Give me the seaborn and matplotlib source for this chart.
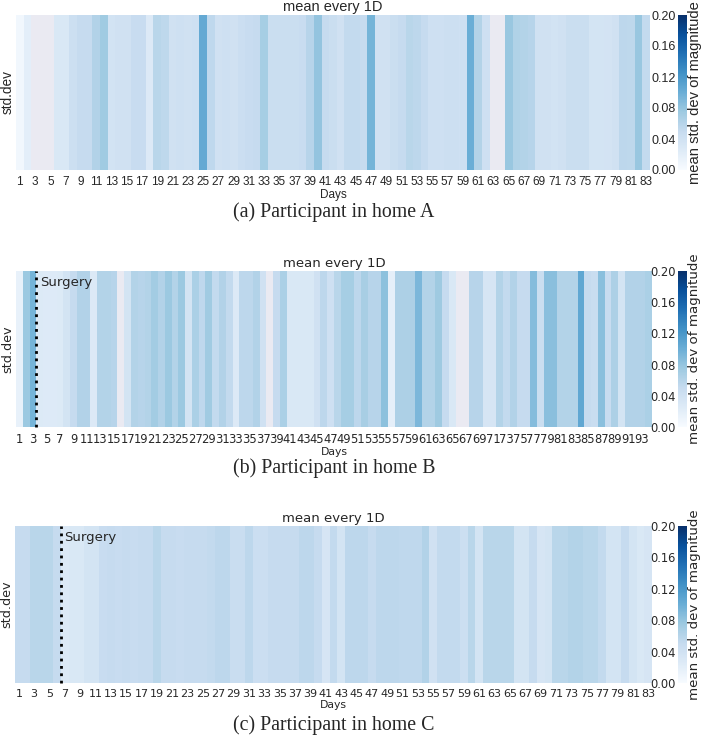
import numpy as np
import pandas as pd
import matplotlib
matplotlib.use("Agg")
import matplotlib.pyplot as plt
import seaborn as sns

nan = np.nan

# mean std. dev of magnitude per day (NaN = missing day)
days_a = list(range(1, 84))
values_a = [0.007, 0.02, nan, nan, nan, 0.03, 0.03, 0.044, 0.05, 0.05,
            0.063, 0.074, 0.038, 0.04, 0.04, 0.048, 0.048, 0.028, 0.058, 0.055,
            0.04, 0.042, 0.04, 0.042, 0.104, 0.054, 0.04, 0.042, 0.04, 0.045,
            0.048, 0.05, 0.07, 0.046, 0.046, 0.046, 0.046, 0.048, 0.06, 0.08,
            0.05, 0.046, 0.04, 0.052, 0.052, 0.05, 0.095, 0.04, 0.04, 0.046,
            0.05, 0.058, 0.056, 0.05, 0.042, 0.042, 0.044, 0.044, 0.042, 0.1,
            0.062, 0.042, nan, nan, 0.078, 0.064, 0.062, 0.06, 0.04, 0.04,
            0.038, 0.04, 0.046, 0.046, 0.046, 0.036, 0.036, 0.037, 0.04, 0.056,
            0.055, 0.078, 0.052]

days_b = list(range(1, 95))
values_b = [0.015, 0.076, 0.095, 0.027, 0.026, 0.026, 0.027, 0.036, 0.05, 0.063,
            0.063, 0.028, 0.062, 0.062, 0.06, nan, 0.036, 0.062, 0.06, 0.062,
            0.072, 0.063, 0.076, 0.062, 0.076, 0.036, 0.067, 0.054, 0.073, 0.052,
            0.063, 0.052, 0.028, 0.056, 0.056, 0.063, 0.04, nan, 0.05, 0.067,
            0.03, 0.03, 0.03, 0.03, 0.04, 0.056, 0.042, 0.058, 0.07, 0.07,
            0.056, 0.069, 0.06, 0.06, 0.083, 0.018, 0.066, 0.066, 0.066, 0.092,
            0.062, 0.062, 0.075, 0.05, 0.03, nan, nan, 0.06, 0.06, 0.034,
            0.034, 0.062, 0.052, 0.063, 0.05, 0.05, 0.087, 0.046, 0.085, 0.085,
            0.062, 0.062, 0.062, 0.107, 0.05, 0.047, 0.085, 0.048, 0.066, 0.036,
            0.063, 0.063, 0.063, 0.067]

days_c = list(range(1, 84))
values_c = [0.05, 0.05, 0.058, 0.058, 0.058, 0.05, 0.028, 0.03, 0.03, 0.036,
            0.036, 0.048, 0.05, 0.048, 0.05, 0.048, 0.05, 0.05, 0.058, 0.05,
            0.05, 0.048, 0.05, 0.05, 0.05, 0.052, 0.056, 0.056, 0.047, 0.047,
            0.056, 0.045, 0.045, 0.05, 0.05, 0.05, 0.05, 0.056, 0.056, 0.05,
            0.034, 0.052, 0.036, 0.056, 0.056, 0.056, 0.05, 0.056, 0.056, 0.056,
            0.054, 0.054, 0.054, 0.063, 0.04, 0.052, 0.052, 0.052, 0.044, 0.058,
            0.036, 0.058, 0.058, 0.058, 0.058, 0.036, 0.036, 0.05, 0.034, 0.036,
            0.058, 0.058, 0.062, 0.062, 0.058, 0.058, 0.052, 0.036, 0.036, 0.05,
            0.036, 0.03, 0.034]

surgery_b = 3
surgery_c = 6
captions = ["(a) Participant in home A", "(b) Participant in home B", "(c) Participant in home C"]
cbar_ticks = [0.0, 0.04, 0.08, 0.12, 0.16, 0.20]

sns.set_style("darkgrid")  # grey facecolor shows through missing days

W, H = 703, 738
fig = plt.figure(figsize=(W / 100, H / 100), dpi=100)


def px_axes(x0, y0, x1, y1):
    return fig.add_axes([x0 / W, 1 - y1 / H, (x1 - x0) / W, (y1 - y0) / H])


def panel(days, values, box, cbox, cap_y, caption, font, sizes, surgery=None):
    title_fs, ylab_fs, tick_fs, xlab_fs, cb_fs, cbl_fs = sizes
    df = pd.DataFrame([values], index=["std.dev"], columns=days)
    ax = px_axes(*box)
    cax = px_axes(*cbox)
    sns.heatmap(df, ax=ax, cbar_ax=cax, cmap="Blues", vmin=0, vmax=0.2)
    ax.grid(False)

    ax.set_xticks(np.arange(0, len(days), 2) + 0.5, [str(d) for d in days[::2]],
                  rotation=0, fontsize=tick_fs, fontfamily=font)
    ax.set_yticks([0.5], ["std.dev"], rotation=90, va="center",
                  fontsize=ylab_fs, fontfamily=font)
    ax.tick_params(axis="x", length=0, pad=4)
    ax.tick_params(axis="y", length=0, pad=1)
    ax.set_xlabel("Days", fontsize=xlab_fs, fontfamily=font, labelpad=1)
    ax.set_ylabel("")
    ax.set_title("mean every 1D", fontsize=title_fs, fontfamily=font, pad=3)

    if surgery is not None:
        ax.axvline(surgery, color="black", linestyle=":", linewidth=2, clip_on=False)
        ax.annotate("Surgery", xy=(surgery, 0), xytext=(2.5, -3.5),
                    textcoords="offset points", ha="left", va="top",
                    fontsize=title_fs, fontfamily=font)

    cax.yaxis.set_ticks_position("left")
    cax.set_yticks(cbar_ticks, [f"{t:.2f}" for t in cbar_ticks],
                   fontsize=cb_fs, fontfamily=font)
    cax.tick_params(length=0, pad=1.5)
    cax.yaxis.set_label_position("right")
    cax.set_ylabel("mean std. dev of magnitude", fontsize=cbl_fs,
                   fontfamily=font, labelpad=1)

    fig.text(334 / W, 1 - cap_y / H, caption, ha="center", va="center",
             fontsize=14.3, fontfamily="Liberation Serif")


panel(days_a, values_a, (16, 15, 650, 170), (678, 15, 687, 170), 212, captions[0],
      "Liberation Sans", (10.5, 9.8, 8.5, 8.5, 9.0, 10.6))
panel(days_b, values_b, (16, 271, 652, 427), (678, 271, 687, 427), 468, captions[1],
      "DejaVu Sans", (9.5, 9.2, 8.3, 7.8, 8.3, 9.6), surgery=surgery_b)
panel(days_c, values_c, (15, 526, 652, 683), (678, 526, 687, 683), 725, captions[2],
      "DejaVu Sans", (9.5, 9.2, 8.0, 7.8, 8.3, 9.6), surgery=surgery_c)

fig.savefig("out.png", dpi=100)
